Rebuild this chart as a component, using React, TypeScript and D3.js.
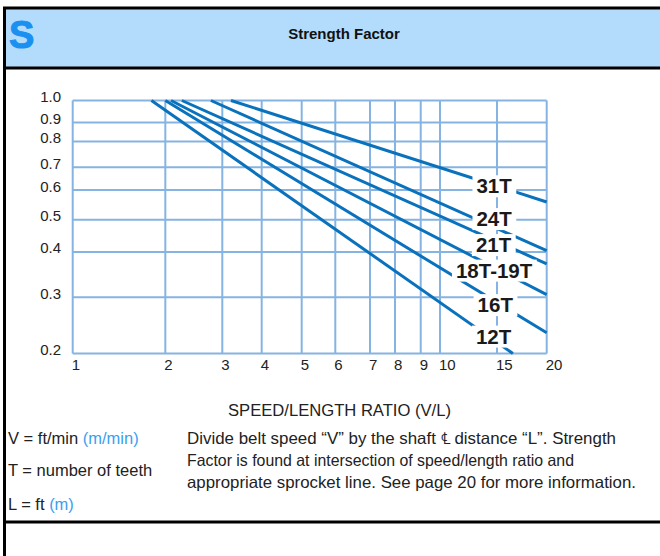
import React, { useEffect, useRef } from "react";
import * as d3 from "d3";

// ---------- data ----------
const xTicks = [1, 2, 3, 4, 5, 6, 7, 8, 9, 10, 15, 20];
const xTickLabels = ["1", "2", "3", "4", "5", "6", "7", "8", "9", "10", "15", "20"];
const yTicks = [0.2, 0.3, 0.4, 0.5, 0.6, 0.7, 0.8, 0.9, 1.0];
const yTickLabels = ["0.2", "0.3", "0.4", "0.5", "0.6", "0.7", "0.8", "0.9", "1.0"];

const seriesNames = ["31T", "24T", "21T", "18T-19T", "16T", "12T"];
const startVL = [3.22, 2.8, 2.29, 2.1, 2.0, 1.85];
const startFactor = [1.0, 1.0, 1.0, 1.0, 1.0, 1.0];
const endVL = [20, 20, 20, 20, 20, 16.6];
const endFactor = [0.56, 0.404, 0.374, 0.306, 0.237, 0.2];
const labelVL = [14.75, 14.75, 14.7, 14.75, 14.85, 14.7];
const labelFactor = [0.619, 0.504, 0.423, 0.36, 0.287, 0.231];

const titleText = "Strength Factor";
const xAxisTitle = "SPEED/LENGTH RATIO (V/L)";
const legendLines = [
  ["V = ft/min ", "(m/min)"],
  ["T = number of teeth", ""],
  ["L = ft ", "(m)"],
];
const noteLines = [
  "Divide belt speed \u201cV\u201d by the shaft \u2104  distance \u201cL\u201d. Strength",
  "Factor is found at intersection of speed/length ratio and",
  "appropriate sprocket line. See page 20 for more information.",
];

// printed axis calibration (relative position of each tick along the axis; the printed scale is non-uniform)
const xAxisStops = [0, 0.1954, 0.3156, 0.3987, 0.4831, 0.554, 0.6272, 0.68, 0.7342, 0.7749, 0.8951, 1];
const yAxisStops = [0, 0.2221, 0.4012, 0.5286, 0.6458, 0.7365, 0.8375, 0.9132, 1];

const FONT = "'Liberation Sans', Arial, Helvetica, sans-serif";

export default function App() {
  const ref = useRef<SVGSVGElement>(null);

  useEffect(() => {
    const svg = d3.select(ref.current);
    svg.selectAll("*").remove();

    const left = 72.7, right = 546.7, top = 100.5, bottom = 353.5;
    const x = d3
      .scaleLinear()
      .domain(xTicks)
      .range(xAxisStops.map((f) => left + f * (right - left)));
    const y = d3
      .scaleLinear()
      .domain(yTicks)
      .range(yAxisStops.map((f) => bottom - f * (bottom - top)));

    // frame
    svg.append("rect").attr("x", 4.5).attr("y", 8).attr("width", 700).attr("height", 60)
      .attr("fill", "#b3dcfc").attr("stroke", "#000").attr("stroke-width", 3);
    svg.append("line").attr("x1", 4.5).attr("x2", 4.5).attr("y1", 8).attr("y2", 556)
      .attr("stroke", "#000").attr("stroke-width", 3);
    svg.append("line").attr("x1", 4.5).attr("x2", 700).attr("y1", 522).attr("y2", 522)
      .attr("stroke", "#000").attr("stroke-width", 3);

    svg.append("text").attr("x", 9).attr("y", 48).text("S")
      .attr("font-family", FONT).attr("font-weight", "bold").attr("font-size", 38)
      .attr("fill", "#1a90f0").attr("stroke", "#1a90f0").attr("stroke-width", 1);
    svg.append("text").attr("x", 344).attr("y", 39).text(titleText)
      .attr("font-family", FONT).attr("font-weight", "bold").attr("font-size", 15)
      .attr("text-anchor", "middle").attr("fill", "#111");

    const grid = "#86b4e2";
    const g = svg.append("g");
    g.selectAll("line.v").data(xTicks).join("line")
      .attr("x1", (d) => x(d)).attr("x2", (d) => x(d))
      .attr("y1", top).attr("y2", bottom)
      .attr("stroke", grid).attr("stroke-width", 2);
    g.selectAll("line.h").data(yTicks).join("line").attr("class", "h")
      .attr("x1", left).attr("x2", right)
      .attr("y1", (d) => y(d)).attr("y2", (d) => y(d))
      .attr("stroke", grid).attr("stroke-width", 2);

    // tick labels
    svg.selectAll("text.yt").data(yTicks).join("text").attr("class", "yt")
      .attr("x", 61).attr("y", (d) => y(d) + 1.5)
      .attr("text-anchor", "end")
      .attr("font-family", FONT).attr("font-size", 15).attr("fill", "#222")
      .text((d, i) => yTickLabels[i]);
    svg.selectAll("text.xt").data(xTicks).join("text").attr("class", "xt")
      .attr("x", (d) => x(d) - 1).attr("y", 369.5)
      .attr("text-anchor", "start")
      .attr("font-family", FONT).attr("font-size", 15).attr("fill", "#222")
      .text((d, i) => xTickLabels[i]);

    // series
    const line = d3.line<[number, number]>().x((d) => x(d[0])).y((d) => y(d[1]));
    seriesNames.forEach((name, i) => {
      svg.append("path")
        .attr("d", line([[startVL[i], startFactor[i]], [endVL[i], endFactor[i]]]))
        .attr("fill", "none").attr("stroke", "#0a72bc").attr("stroke-width", 3);
    });

    // labels with white backgrounds
    seriesNames.forEach((name, i) => {
      const lg = svg.append("g");
      const bg = lg.append("rect").attr("fill", "#fff");
      const t = lg.append("text")
        .attr("x", x(labelVL[i])).attr("y", y(labelFactor[i]) + 7.5)
        .attr("text-anchor", "middle")
        .attr("font-family", FONT).attr("font-weight", "bold").attr("font-size", 20.5)
        .attr("fill", "#1a1a1a").text(name);
      const bb = (t.node() as SVGTextElement).getBBox();
      bg.attr("x", bb.x - 4).attr("y", bb.y + 1).attr("width", bb.width + 8).attr("height", bb.height - 1);
    });

    // axis title
    svg.append("text").attr("x", 339.5).attr("y", 416).text(xAxisTitle)
      .attr("font-family", FONT).attr("font-size", 16).attr("fill", "#222")
      .attr("text-anchor", "middle")
      .attr("textLength", 223).attr("lengthAdjust", "spacingAndGlyphs");

    // legend (left column)
    const legendY = [444, 476, 510];
    legendLines.forEach((parts, i) => {
      const t = svg.append("text").attr("x", 8).attr("y", legendY[i])
        .attr("font-family", FONT).attr("font-size", 16.5).attr("fill", "#222");
      t.append("tspan").text(parts[0]);
      if (parts[1]) t.append("tspan").attr("fill", "#3aa0f0").text(parts[1]);
    });

    // note (right column)
    const noteY = [444, 466, 488];
    const noteW = [429, 387, 449];
    noteLines.forEach((s, i) => {
      svg.append("text").attr("x", 187).attr("y", noteY[i]).text(s)
        .attr("font-family", FONT).attr("font-size", 16.5).attr("fill", "#222")
        .attr("textLength", noteW[i]).attr("lengthAdjust", "spacingAndGlyphs");
    });
  }, []);

  return (
    <svg
      ref={ref}
      width={660}
      height={556}
      style={{ position: "absolute", left: 0, top: 0, background: "#fff" }}
    />
  );
}
